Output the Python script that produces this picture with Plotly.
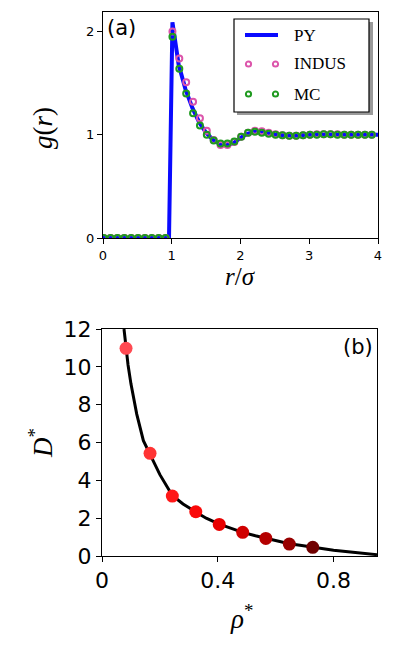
import plotly.graph_objects as go

W, H = 399, 647
# the page body adds an 8px offset; positions below are read in window pixels
OFF = 8

# ---- panel (a): radial distribution function ----
r_py = [0.0, 0.96, 1.01, 1.05, 1.1, 1.2, 1.3, 1.4, 1.5, 1.6, 1.7, 1.8, 1.9, 2.0, 2.1,
        2.2, 2.3, 2.4, 2.5, 2.6, 2.7, 2.8, 2.9, 3.0, 3.1, 3.2, 3.3, 3.4, 3.5, 4.0]
g_py = [0.0, 0.0, 2.09, 1.88, 1.68, 1.44, 1.26, 1.12, 1.02, 0.95, 0.91, 0.90, 0.92, 0.97, 1.01,
        1.03, 1.025, 1.015, 1.0, 0.995, 0.99, 0.992, 0.997, 1.0, 1.003, 1.004, 1.003, 1.001, 1.0, 1.0]

r_pts = [0.01, 0.11, 0.21, 0.31, 0.41, 0.51, 0.61, 0.71, 0.81, 0.91,
         1.01, 1.11, 1.21, 1.31, 1.41, 1.51, 1.61, 1.71, 1.81, 1.91,
         2.01, 2.11, 2.21, 2.31, 2.41, 2.51, 2.61, 2.71, 2.81, 2.91,
         3.01, 3.11, 3.21, 3.31, 3.41, 3.51, 3.61, 3.71, 3.81, 3.91]
g_indus = [0, 0, 0, 0, 0, 0, 0, 0, 0, 0,
           2.00, 1.74, 1.51, 1.32, 1.16, 1.04, 0.95, 0.90, 0.90, 0.93,
           0.98, 1.02, 1.04, 1.035, 1.02, 1.005, 0.995, 0.99, 0.99, 0.995,
           1.0, 1.005, 1.005, 1.005, 1.005, 1.0, 1.0, 1.0, 1.0, 1.0]
g_mc = [0, 0, 0, 0, 0, 0, 0, 0, 0, 0,
        1.95, 1.64, 1.40, 1.21, 1.09, 1.00, 0.945, 0.915, 0.915, 0.935,
        0.98, 1.02, 1.03, 1.02, 1.01, 1.0, 0.995, 0.99, 0.99, 0.995,
        1.0, 1.0, 1.005, 1.005, 1.0, 1.0, 1.0, 1.0, 1.0, 1.0]

# ---- panel (b): diffusion coefficient vs density ----
rho_fit = [0.076, 0.083, 0.09, 0.10, 0.11, 0.12, 0.143, 0.166, 0.20, 0.243, 0.28, 0.324,
           0.36, 0.405, 0.45, 0.486, 0.53, 0.566, 0.61, 0.647, 0.69, 0.728, 0.77, 0.80,
           0.85, 0.90, 0.95]
d_fit = [12.0, 11.0, 10.1, 9.1, 8.2, 7.5, 6.1, 5.4, 4.3, 3.2, 2.75, 2.33,
         2.0, 1.68, 1.43, 1.25, 1.07, 0.93, 0.77, 0.65, 0.55, 0.46, 0.37, 0.31,
         0.22, 0.13, 0.07]
rho_pts = [0.083, 0.166, 0.243, 0.324, 0.405, 0.486, 0.566, 0.647, 0.728]
d_pts = [10.98, 5.43, 3.17, 2.34, 1.67, 1.25, 0.93, 0.63, 0.46]
pt_colors = ["#ff4a52", "#ff3434", "#ff1818", "#fa0808", "#e80000", "#d00000",
             "#b40000", "#980000", "#700000"]

BLUE = "#0a0aff"
PINK = "#dc55ab"
GREEN = "#1f9a1f"


def px(x):
    return (x - OFF) / W


def py(y):
    return 1 - (y - OFF) / H


fig = go.Figure()

fig.add_trace(go.Scatter(x=r_py, y=g_py, mode="lines", line=dict(color=BLUE, width=4),
                         xaxis="x", yaxis="y"))
fig.add_trace(go.Scatter(x=r_pts, y=g_indus, mode="markers",
                         marker=dict(symbol="circle-open", size=6, color=PINK, line=dict(width=2)),
                         xaxis="x", yaxis="y"))
fig.add_trace(go.Scatter(x=r_pts, y=g_mc, mode="markers",
                         marker=dict(symbol="circle-open", size=6, color=GREEN, line=dict(width=2)),
                         xaxis="x", yaxis="y"))

fig.add_trace(go.Scatter(x=rho_fit, y=d_fit, mode="lines", line=dict(color="black", width=3),
                         xaxis="x2", yaxis="y2"))
fig.add_trace(go.Scatter(x=rho_pts, y=d_pts, mode="markers",
                         marker=dict(size=13, color=pt_colors, line=dict(width=0)),
                         xaxis="x2", yaxis="y2", cliponaxis=False))

axis_common = dict(showgrid=False, zeroline=False, showline=True, linecolor="black",
                   linewidth=1, mirror=True, ticks="outside", ticklen=5, tickwidth=1,
                   tickcolor="black", fixedrange=True, automargin=False)

fig.update_layout(
    width=W, height=H,
    margin=dict(l=0, r=0, t=0, b=0, pad=0),
    paper_bgcolor="white", plot_bgcolor="white",
    showlegend=False,
    font=dict(family="DejaVu Sans", color="black"),
    xaxis=dict(domain=[px(103), px(378)], range=[0, 4], tickvals=[0, 1, 2, 3, 4],
               tickfont=dict(size=13), anchor="y", **axis_common),
    yaxis=dict(domain=[py(238), py(12)], range=[0, 2.19], tickvals=[0, 1, 2],
               tickfont=dict(size=13), anchor="x", **axis_common),
    xaxis2=dict(domain=[px(102), px(377)], range=[0, 0.95], tickvals=[0, 0.4, 0.8],
                ticktext=["0", "0.4", "0.8"], tickfont=dict(size=22), anchor="y2", **axis_common),
    yaxis2=dict(domain=[py(556), py(329)], range=[0, 12], tickvals=[0, 2, 4, 6, 8, 10, 12],
                tickfont=dict(size=22), anchor="x2", **axis_common),
)

# axis titles and panel labels
serif = "Liberation Serif"
notes = [
    dict(x=px(43), y=py(128), text="<i>g</i>(<i>r</i>)", textangle=-90, size=27, fam=serif, xa="center"),
    dict(x=px(240), y=py(276), text="<i>r</i>/<i>σ</i>", textangle=0, size=25, fam=serif, xa="center"),
    dict(x=px(41), y=py(443), text="<i>D</i><sup>*</sup>", textangle=-90, size=27, fam=serif, xa="center"),
    dict(x=px(241), y=py(617), text="<i>ρ</i><sup>*</sup>", textangle=0, size=27, fam=serif, xa="center"),
    dict(x=px(105), y=py(28), text="(a)", textangle=0, size=21, fam="DejaVu Sans", xa="left"),
    dict(x=px(375), y=py(347), text="(b)", textangle=0, size=21, fam="DejaVu Sans", xa="right"),
]
for n in notes:
    fig.add_annotation(x=n["x"], y=n["y"], xref="paper", yref="paper", text=n["text"],
                       textangle=n["textangle"], showarrow=False,
                       xanchor=n["xa"], yanchor="middle",
                       font=dict(family=n["fam"], size=n["size"], color="black"))

# hand-made legend box with shadow (matplotlib style)
fig.add_shape(type="rect", xref="paper", yref="paper", x0=px(237), x1=px(373), y0=py(115), y1=py(22),
              fillcolor="#9a9a9a", line=dict(width=0))
fig.add_shape(type="rect", xref="paper", yref="paper", x0=px(234), x1=px(369), y0=py(112), y1=py(19),
              fillcolor="white", line=dict(color="black", width=1.2))
fig.add_shape(type="line", xref="paper", yref="paper", x0=px(245), x1=px(278), y0=py(35), y1=py(35),
              line=dict(color=BLUE, width=4))
for cy, col in [(64, PINK), (94, GREEN)]:
    for cx in (248.5, 275.5):
        fig.add_shape(type="circle", xref="paper", yref="paper",
                      x0=px(cx - 2.6), x1=px(cx + 2.6), y0=py(cy + 2.6), y1=py(cy - 2.6),
                      line=dict(color=col, width=2), fillcolor="white")
for cy, label in [(35, "PY"), (64, "INDUS"), (94, "MC")]:
    fig.add_annotation(x=px(292), y=py(cy), xref="paper", yref="paper", text=label,
                       xanchor="left", yanchor="middle", showarrow=False,
                       font=dict(family=serif, size=17, color="black"))

fig.write_html("out.html")
